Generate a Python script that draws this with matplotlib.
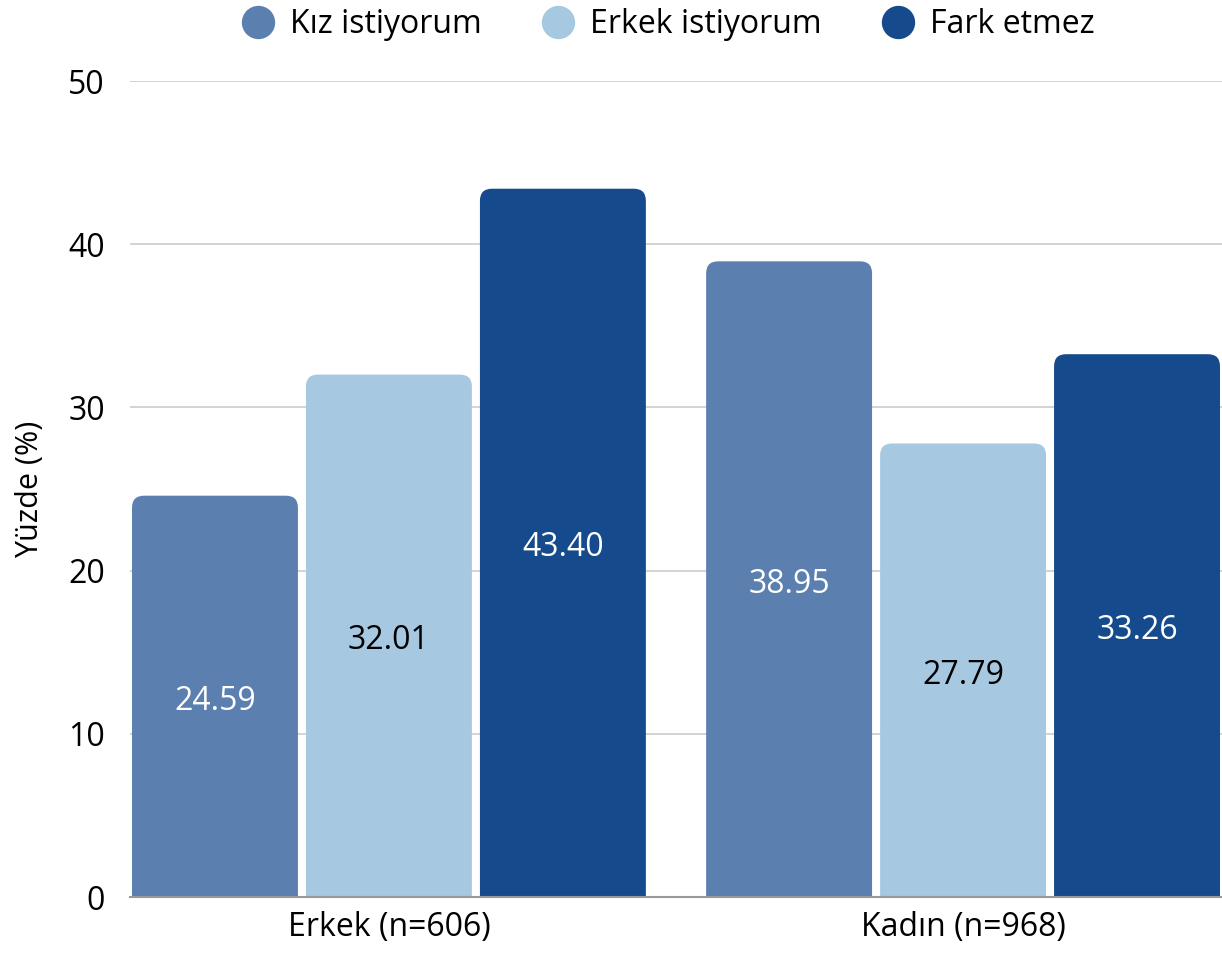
import matplotlib
matplotlib.use("Agg")
import matplotlib.pyplot as plt
import numpy as np
from matplotlib.patches import FancyBboxPatch
from matplotlib.lines import Line2D

plt.rcParams['font.family'] = ['Open Sans', 'DejaVu Sans']

groups = ['Erkek (n=606)', 'Kadın (n=968)']
series = ['Kız istiyorum', 'Erkek istiyorum', 'Fark etmez']
kiz = [24.59, 38.95]
erkek = [32.01, 27.79]
fark = [43.40, 33.26]
colors = ['#5b7faf', '#a6c8e0', '#154a8c']
text_colors = ['white', 'black', 'white']

fig = plt.figure(figsize=(12.22, 9.56), dpi=100)
ax = fig.add_axes([130/1222, 1 - 897/956, 1092/1222, 816/956])

x = np.arange(len(groups))
step = 0.303
width = 0.289
r = 0.021          # corner radius in x data units
aspect = 35        # y units per x unit for corners

for i, vals in enumerate([kiz, erkek, fark]):
    bars = ax.bar(x + (i - 1) * step, vals, width, color=colors[i], zorder=3)
    for b, v in zip(bars, vals):
        b.set_visible(False)
        p = FancyBboxPatch((b.get_x(), -2), b.get_width(), v + 2,
                           boxstyle="round,pad=0,rounding_size=%f" % r,
                           mutation_aspect=aspect,
                           fc=colors[i], ec='none', zorder=3)
        ax.add_patch(p)
        ax.text(b.get_x() + b.get_width() / 2, v / 2 - 0.3, '%.2f' % v,
                ha='center', va='center', fontsize=23, color=text_colors[i], zorder=4)

ax.set_xlim(-0.451, 1.451)
ax.set_ylim(0, 50)
ax.set_yticks([0, 10, 20, 30, 40, 50])
ax.set_xticks(x)
ax.set_xticklabels(groups)
ax.tick_params(axis='both', length=0, labelsize=23)
ax.tick_params(axis='y', pad=18)
ax.tick_params(axis='x', pad=10)
ax.grid(axis='y', color='#cccccc', linewidth=1.2, zorder=0)
for s in ['top', 'right', 'left']:
    ax.spines[s].set_visible(False)
ax.spines['bottom'].set_color('#999999')
ax.spines['bottom'].set_linewidth(1.5)
ax.spines['bottom'].set_zorder(5)
ax.set_ylabel('Yüzde (%)', fontsize=22)
ax.yaxis.set_label_coords(-0.078, 0.5)

handles = [Line2D([], [], marker='o', linestyle='none', markersize=24,
                  markerfacecolor=c, markeredgecolor='none') for c in colors]
fig.legend(handles, series, loc='upper center', bbox_to_anchor=(0.547, 1.022),
           ncol=3, frameon=False, fontsize=23, handlelength=1.0,
           handletextpad=0.5, columnspacing=1.9)

fig.savefig('out.png', dpi=100)
